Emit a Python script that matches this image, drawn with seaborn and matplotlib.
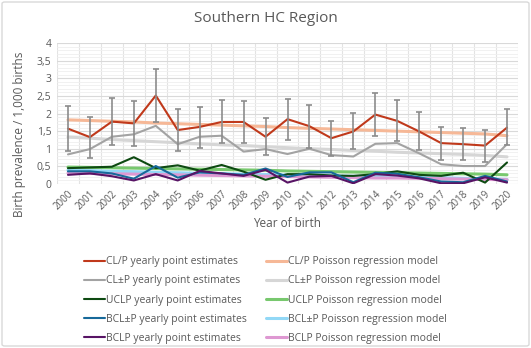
import numpy as np
import pandas as pd
import matplotlib
matplotlib.use("Agg")
import matplotlib.pyplot as plt
from matplotlib.patches import FancyBboxPatch
from matplotlib.ticker import MultipleLocator, FuncFormatter
import seaborn as sns

years = list(range(2000, 2021))

clp_pt = [1.57, 1.33, 1.77, 1.72, 2.51, 1.53, 1.62, 1.76, 1.76, 1.34, 1.84,
          1.64, 1.30, 1.49, 1.97, 1.79, 1.49, 1.16, 1.13, 1.09, 1.60]
clp_lo = [0.95, 0.73, 1.10, 1.09, 1.75, 0.95, 1.03, 1.16, 1.17, 0.82, 1.25,
          1.01, 0.80, 0.98, 1.36, 1.21, 0.97, 0.68, 0.68, 0.62, 1.11]
clp_hi = [2.22, 1.89, 2.45, 2.36, 3.27, 2.12, 2.19, 2.37, 2.35, 1.86, 2.42,
          2.23, 1.80, 2.02, 2.57, 2.37, 2.04, 1.61, 1.60, 1.54, 2.14]
clp_model = [1.82, 1.80, 1.78, 1.76, 1.73, 1.71, 1.69, 1.67, 1.65, 1.63, 1.60,
             1.58, 1.56, 1.54, 1.52, 1.50, 1.48, 1.46, 1.44, 1.42, 1.37]

cl_pt = [0.84, 0.99, 1.34, 1.41, 1.65, 1.13, 1.34, 1.37, 0.92, 0.99, 0.85,
         1.00, 0.82, 0.78, 1.14, 1.16, 0.87, 0.56, 0.51, 0.51, 1.13]
cl_model = [1.33, 1.30, 1.26, 1.23, 1.20, 1.17, 1.14, 1.11, 1.09, 1.06, 1.03,
            1.00, 0.98, 0.95, 0.93, 0.90, 0.88, 0.86, 0.84, 0.81, 0.77]

uclp_pt = [0.45, 0.47, 0.49, 0.76, 0.45, 0.53, 0.38, 0.54, 0.35, 0.12, 0.28,
           0.28, 0.24, 0.23, 0.28, 0.36, 0.26, 0.23, 0.32, 0.04, 0.61]
uclp_model = [0.48, 0.47, 0.46, 0.45, 0.44, 0.43, 0.42, 0.41, 0.40, 0.39, 0.37,
              0.36, 0.35, 0.34, 0.33, 0.32, 0.31, 0.30, 0.29, 0.28, 0.26]

bcl_pt = [0.36, 0.36, 0.30, 0.15, 0.51, 0.18, 0.33, 0.30, 0.26, 0.44, 0.20,
          0.33, 0.33, 0.05, 0.32, 0.29, 0.19, 0.07, 0.05, 0.23, 0.07]
bcl_model = [0.39, 0.38, 0.36, 0.35, 0.33, 0.32, 0.30, 0.29, 0.28, 0.27, 0.25,
             0.24, 0.23, 0.22, 0.21, 0.20, 0.19, 0.18, 0.16, 0.15, 0.13]

bclp_pt = [0.26, 0.30, 0.22, 0.10, 0.28, 0.10, 0.37, 0.30, 0.23, 0.40, 0.04,
           0.21, 0.23, 0.02, 0.28, 0.24, 0.16, 0.02, 0.02, 0.19, 0.04]
bclp_model = [0.31, 0.30, 0.29, 0.28, 0.27, 0.26, 0.25, 0.24, 0.23, 0.22, 0.21,
              0.20, 0.19, 0.18, 0.17, 0.17, 0.16, 0.15, 0.14, 0.13, 0.12]

series_names = [
    "CL/P yearly point estimates", "CL±P yearly point estimates",
    "UCLP yearly point estimates", "BCL±P yearly point estimates",
    "BCLP yearly point estimates",
    "CL/P Poisson regression model", "CL±P Poisson regression model",
    "UCLP Poisson regression model", "BCL±P Poisson regression model",
    "BCLP Poisson regression model",
]
series_values = [clp_pt, cl_pt, uclp_pt, bcl_pt, bclp_pt,
                 clp_model, cl_model, uclp_model, bcl_model, bclp_model]
colors = ["#C0391B", "#A3A3A3", "#0E4A12", "#17699A", "#581465",
          "#F6B897", "#D6D6D6", "#78C86E", "#92D8F6", "#DE98D2"]
widths = [1.5, 1.5, 1.5, 1.5, 1.5, 2.2, 2.2, 2.2, 2.2, 2.2]

rows = []
for name, vals in zip(series_names, series_values):
    for y, v in zip(years, vals):
        rows.append({"Year": y, "Value": v, "Series": name})
df = pd.DataFrame(rows)

sns.set_theme(style="white")
plt.rcParams["font.family"] = ["Open Sans", "DejaVu Sans"]

fig = plt.figure(figsize=(5.31, 3.48), dpi=100)
fig.patch.set_facecolor("white")
ax = fig.add_axes([57 / 531, 1 - 184 / 348, 461 / 531, 141 / 348])

draw_order = [5, 6, 7, 8, 9, 0, 1, 2, 3, 4]
for i in draw_order:
    sub = df[df["Series"] == series_names[i]]
    sns.lineplot(data=sub, x="Year", y="Value", ax=ax, color=colors[i],
                 linewidth=widths[i], label=series_names[i], legend=False,
                 zorder=3 if i < 5 else 2)

yerr = [np.array(clp_pt) - np.array(clp_lo), np.array(clp_hi) - np.array(clp_pt)]
ax.errorbar(years, clp_pt, yerr=yerr, fmt="none", ecolor="#8C8C8C",
            elinewidth=1.2, capsize=2.5, capthick=1.2, zorder=4)

ax.set_xlim(1999.5, 2020.5)
ax.set_ylim(0, 4)
ax.yaxis.set_major_locator(MultipleLocator(0.5))
ax.yaxis.set_minor_locator(MultipleLocator(0.1))
ax.yaxis.set_major_formatter(FuncFormatter(lambda v, p: ("%g" % v).replace(".", ",")))
ax.set_xticks(years)
ax.set_xticks(np.arange(1999.5, 2021, 1), minor=True)
ax.set_xticklabels([str(y) for y in years], rotation=45, ha="right",
                   rotation_mode="anchor", fontsize=7, color="#595959")
ax.tick_params(axis="y", labelsize=7.5, colors="#595959", length=0, pad=4)
ax.tick_params(axis="x", which="both", length=0, pad=3)
ax.tick_params(axis="y", which="minor", length=0)
ax.grid(axis="y", which="major", color="#D9D9D9", linewidth=0.8, zorder=0)
ax.grid(axis="y", which="minor", color="#EFEFEF", linewidth=0.6, zorder=0)
ax.grid(axis="x", which="minor", color="#E3E3E3", linewidth=0.8, zorder=0)
ax.grid(axis="x", which="major", visible=False)
for s in ax.spines.values():
    s.set_visible(False)
ax.set_xlabel("Year of birth", fontsize=8.5, color="#595959", labelpad=4)
ax.set_ylabel("Birth prevalence / 1,000 births", fontsize=8.5, color="#595959")
ax.yaxis.set_label_coords(-0.068, 0.35)

fig.text(0.5, 1 - 18 / 348, "Southern HC Region", ha="center", va="center",
         fontsize=11, color="#595959")

hs, ls = ax.get_legend_handles_labels()
lookup = dict(zip(ls, hs))
leg_handles = [lookup[n] for n in series_names]
fig.legend(leg_handles, series_names, ncol=2, loc="upper center",
           bbox_to_anchor=(0.5, 1 - 247 / 348), frameon=False, fontsize=7.5,
           labelcolor="#595959", handlelength=2.0, handletextpad=0.15,
           columnspacing=1.8, labelspacing=0.78)

border = FancyBboxPatch((2 / 531, 2 / 348), 527 / 531, 344 / 348,
                        boxstyle="round,pad=0,rounding_size=0.005",
                        transform=fig.transFigure, fill=False,
                        edgecolor="#D9D9D9", linewidth=1)
fig.patches.append(border)

fig.savefig("out.png", dpi=100)
